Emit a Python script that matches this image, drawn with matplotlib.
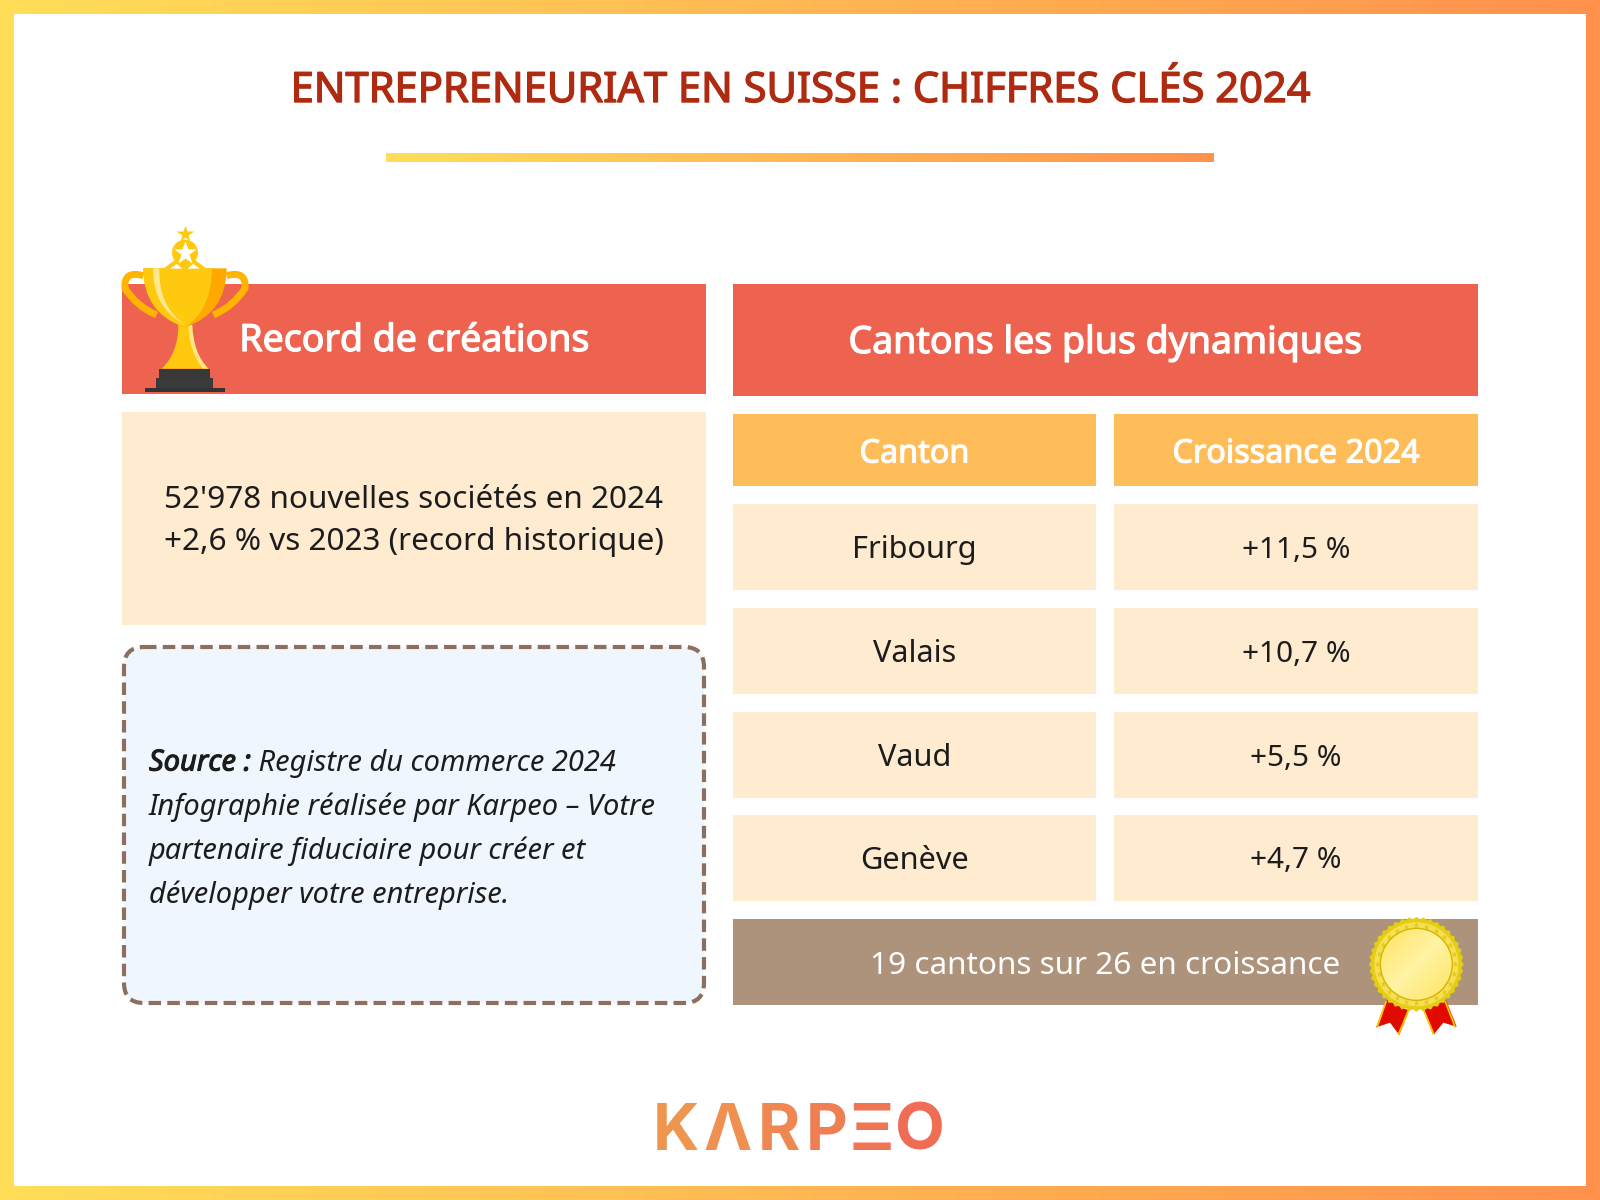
import numpy as np
import matplotlib
matplotlib.use("Agg")
import matplotlib.pyplot as plt
import matplotlib.patheffects as pe
from matplotlib.colors import LinearSegmentedColormap
from matplotlib.patches import Rectangle, FancyBboxPatch, Polygon, Circle, PathPatch
from matplotlib.path import Path

plt.rcParams['font.family'] = ['Noto Sans', 'DejaVu Sans']

# Content
title = "ENTREPRENEURIAT EN SUISSE : CHIFFRES CLÉS 2024"
left_header = "Record de créations"
right_header = "Cantons les plus dynamiques"
record_lines = ["52'978 nouvelles sociétés en 2024", "+2,6 % vs 2023 (record historique)"]
source_label = "Source :"
source_lines = [" Registre du commerce 2024",
                "Infographie réalisée par Karpeo – Votre",
                "partenaire fiduciaire pour créer et",
                "développer votre entreprise."]
col_headers = ["Canton", "Croissance 2024"]
cantons = ["Fribourg", "Valais", "Vaud", "Genève"]
growth = ["+11,5 %", "+10,7 %", "+5,5 %", "+4,7 %"]
footer = "19 cantons sur 26 en croissance"
logo_letters = ["K", "Λ", "R", "P", "Ξ", "O"]

# Colours
YELLOW = "#FFDE59"
ORANGE = "#FF914D"
RED = "#EE634F"
CREAM = "#FEEBD0"
AMBER = "#FFBD59"
TAUPE = "#AD927C"
INK = "#1C1C1C"
GOLD = "#FFC90F"

fig = plt.figure(figsize=(16, 12), dpi=100)
ax = fig.add_axes([0, 0, 1, 1])
ax.set_xlim(0, 1600)
ax.set_ylim(1200, 0)
ax.axis('off')

grad = LinearSegmentedColormap.from_list("border", [YELLOW, ORANGE])


def gradient(x0, x1, y0, y1, z=1):
    g = np.linspace(0, 1, 256).reshape(1, -1)
    return ax.imshow(g, cmap=grad, extent=(x0, x1, y1, y0), aspect='auto', zorder=z)


def box(x0, y0, x1, y1, color, z=2):
    ax.add_patch(Rectangle((x0, y0), x1 - x0, y1 - y0, fc=color, ec='none', zorder=z))


# the Noto Sans here has no bold file, so thicken the outline instead
def bold(text, color, width=0.9):
    text.set_path_effects([pe.withStroke(linewidth=width, foreground=color)])
    return text


# Frame and title
gradient(0, 1600, 0, 1200, z=0)
box(14, 14, 1586, 1186, "white", z=1)
bold(ax.text(800, 91, title, ha='center', va='center', fontsize=30, color="#AE2A10", zorder=5), "#AE2A10", 1.0)
gradient(386, 1214, 153, 162, z=2)

# Left column
box(122, 284, 706, 394, RED)
bold(ax.text(414, 341, left_header, ha='center', va='center', fontsize=27, color='white', zorder=5), 'white')
box(122, 412, 706, 625, CREAM)
for y, line in zip([500, 542], record_lines):
    ax.text(414, y, line, ha='center', va='center', fontsize=22.7, color=INK, zorder=5)

ax.add_patch(FancyBboxPatch((124, 647), 580, 356, boxstyle="round,pad=0,rounding_size=20",
                            fc="#F0F6FE", ec="#8C6F5E", lw=3, ls=(0, (3.0, 1.5)), zorder=2))
t = bold(ax.text(149, 763, source_label, ha='left', va='center', fontsize=20.9,
                 fontstyle='italic', color=INK, zorder=5), INK, 0.8)
ax.annotate(source_lines[0], xy=(1, 0), xycoords=t, ha='left', va='bottom', fontsize=20.9,
            fontstyle='italic', color=INK, zorder=5)
for y, line in zip([807, 851, 895], source_lines[1:]):
    ax.text(149, y, line, ha='left', va='center', fontsize=20.9, fontstyle='italic', color=INK, zorder=5)

# Right column
box(733, 284, 1478, 396, RED)
bold(ax.text(1105, 343, right_header, ha='center', va='center', fontsize=27, color='white', zorder=5), 'white')
col_x = [(733, 1096), (1114, 1478)]
for (x0, x1), label in zip(col_x, col_headers):
    box(x0, 414, x1, 486, AMBER)
    bold(ax.text((x0 + x1) / 2, 454, label, ha='center', va='center', fontsize=23.3, color='white', zorder=5), 'white', 0.8)
row_y = [(504, 590), (608, 694), (712, 798), (815, 901)]
for (y0, y1), canton, value in zip(row_y, cantons, growth):
    ym = (y0 + y1) / 2 + 3
    x0, x1 = col_x[0]
    box(x0, y0, x1, y1, CREAM)
    ax.text((x0 + x1) / 2, ym, canton, ha='center', va='center', fontsize=22.1, color=INK, zorder=5)
    x0, x1 = col_x[1]
    box(x0, y0, x1, y1, CREAM)
    ax.text((x0 + x1) / 2, ym, value, ha='center', va='center', fontsize=21.4, color=INK, zorder=5)
box(733, 919, 1478, 1005, TAUPE)
ax.text(1105, 966, footer, ha='center', va='center', fontsize=22.7, color='white', zorder=5)


# Trophy, sketched in the coordinates of a 3x crop starting at (100, 210)
def tr(pts):
    return [(100 + x / 3, 210 + y / 3) for x, y in pts]


def curve(pts, codes, **kw):
    ax.add_patch(PathPatch(Path(tr(pts), codes), **kw))


M, L, C, Z = Path.MOVETO, Path.LINETO, Path.CURVE3, Path.CLOSEPOLY
for pts in ([(130, 197), (70, 180), (75, 235), (110, 290), (170, 315)],
            [(380, 197), (440, 180), (435, 235), (400, 290), (340, 315)]):
    curve(pts, [M, C, C, C, C], fc='none', ec="#FFB400", lw=5, zorder=6)
for y0, y1, x0, x1, c in [(534, 546, 134, 374, "#333333"), (505, 534, 168, 340, "#3A3A3A"), (476, 505, 178, 330, "#383838")]:
    ax.add_patch(Polygon(tr([(x0, y0), (x1, y0), (x1, y1), (x0, y1)]), fc=c, ec='none', zorder=7))
curve([(235, 345), (235, 430), (185, 476), (325, 476), (275, 430), (275, 345), (235, 345)],
      [M, C, C, L, C, C, Z], fc=GOLD, ec='none', zorder=6)
curve([(265, 345), (268, 430), (310, 476), (325, 476), (280, 430), (277, 345), (265, 345)],
      [M, C, C, L, C, C, Z], fc="#FFE680", ec='none', zorder=6)
curve([(130, 175), (380, 175), (380, 310), (255, 352), (130, 310), (130, 175), (130, 175)],
      [M, L, C, C, C, C, Z], fc="#FFA800", ec='none', zorder=7)
curve([(130, 175), (336, 175), (335, 300), (255, 352), (130, 310), (130, 175), (130, 175)],
      [M, L, C, C, C, C, Z], fc=GOLD, ec='none', zorder=8)
curve([(160, 175), (178, 175), (175, 290), (255, 345), (155, 290), (160, 175), (160, 175)],
      [M, L, C, C, C, C, Z], fc="#FFE98F", ec='none', zorder=9)
ax.add_patch(Polygon(tr([(190, 176), (225, 150), (285, 150), (320, 176)]), fc=GOLD, ec='none', zorder=8))
ax.add_patch(Polygon(tr([(210, 176), (247, 176), (230, 162)]), fc='white', ec='none', zorder=9))
ax.add_patch(Polygon(tr([(263, 176), (300, 176), (280, 162)]), fc='white', ec='none', zorder=9))
cx, cy = tr([(255, 128)])[0]
ax.add_patch(Circle((cx, cy), 13, fc=GOLD, ec='none', zorder=9))
ax.plot([cx], [cy], marker='*', ms=17, mfc='white', mec='none', zorder=10)
ax.plot([cx], [cy - 18.5], marker='*', ms=13, mfc=GOLD, mec='none', zorder=10)

# Medal
mx, my = 1340 + 229 / 3, 900 + 193 / 3


def md(pts):
    return [(1340 + x / 3, 900 + y / 3) for x, y in pts]


for pts, stripes in (([(140, 300), (207, 332), (178, 405), (150, 368), (108, 382)],
                      [[(138, 305), (112, 380)], [(205, 332), (176, 402)]]),
                     ([(250, 330), (318, 300), (350, 380), (310, 368), (280, 405)],
                      [[(252, 332), (281, 402)], [(316, 305), (345, 380)]])):
    ax.add_patch(Polygon(md(pts), fc="#E00A00", ec='none', zorder=6))
    for s in stripes:
        (a, b), (c, d) = md(s)
        ax.plot([a, c], [b, d], color="#FFC400", lw=1.3, zorder=7)

ang = np.linspace(0, 2 * np.pi, 81)[:-1]
rad = np.where(np.arange(80) % 2 == 0, 47.5, 45)
ax.add_patch(Polygon(np.c_[mx + rad * np.cos(ang), my + rad * np.sin(ang)], fc="#E3CE12", ec='none', zorder=8))
ax.add_patch(Circle((mx, my), 42, fc="#F6DF55", ec='none', zorder=9))
star_ang = np.linspace(0, 2 * np.pi, 25)[:-1]
ax.plot(mx + 39 * np.cos(star_ang), my + 39 * np.sin(star_ang), ls='none', marker='*', ms=5,
        mfc="#E3C81A", mec='none', zorder=10)
ring = Circle((mx, my), 36, fc='none', ec="#D6B400", lw=1, zorder=12)
ax.add_patch(ring)
shine = np.add.outer(np.linspace(0, 1, 64), np.linspace(0, 1, 64)) / 2
shine_map = LinearSegmentedColormap.from_list("shine", ["#FFE35E", "#FFF4A6", "#FFE35E"])
im = ax.imshow(shine, cmap=shine_map, extent=(mx - 36, mx + 36, my + 36, my - 36), aspect='auto', zorder=11)
im.set_clip_path(Circle((mx, my), 36, transform=ax.transData))

# Logo
logo_x = [675.5, 728, 779, 827, 872, 920]
logo_colors = ["#EE9650", "#EF9052", "#EF8752", "#EF7F53", "#EF7554", "#EF6C55"]
for x, letter, c in zip(logo_x, logo_letters, logo_colors):
    ax.text(x, 1126.5, letter, ha='center', va='center_baseline', fontsize=46.5, family='Inter',
            fontweight=700, color=c, zorder=5)

ax.set_xlim(0, 1600)
ax.set_ylim(1200, 0)
fig.savefig("out.png", dpi=100)
